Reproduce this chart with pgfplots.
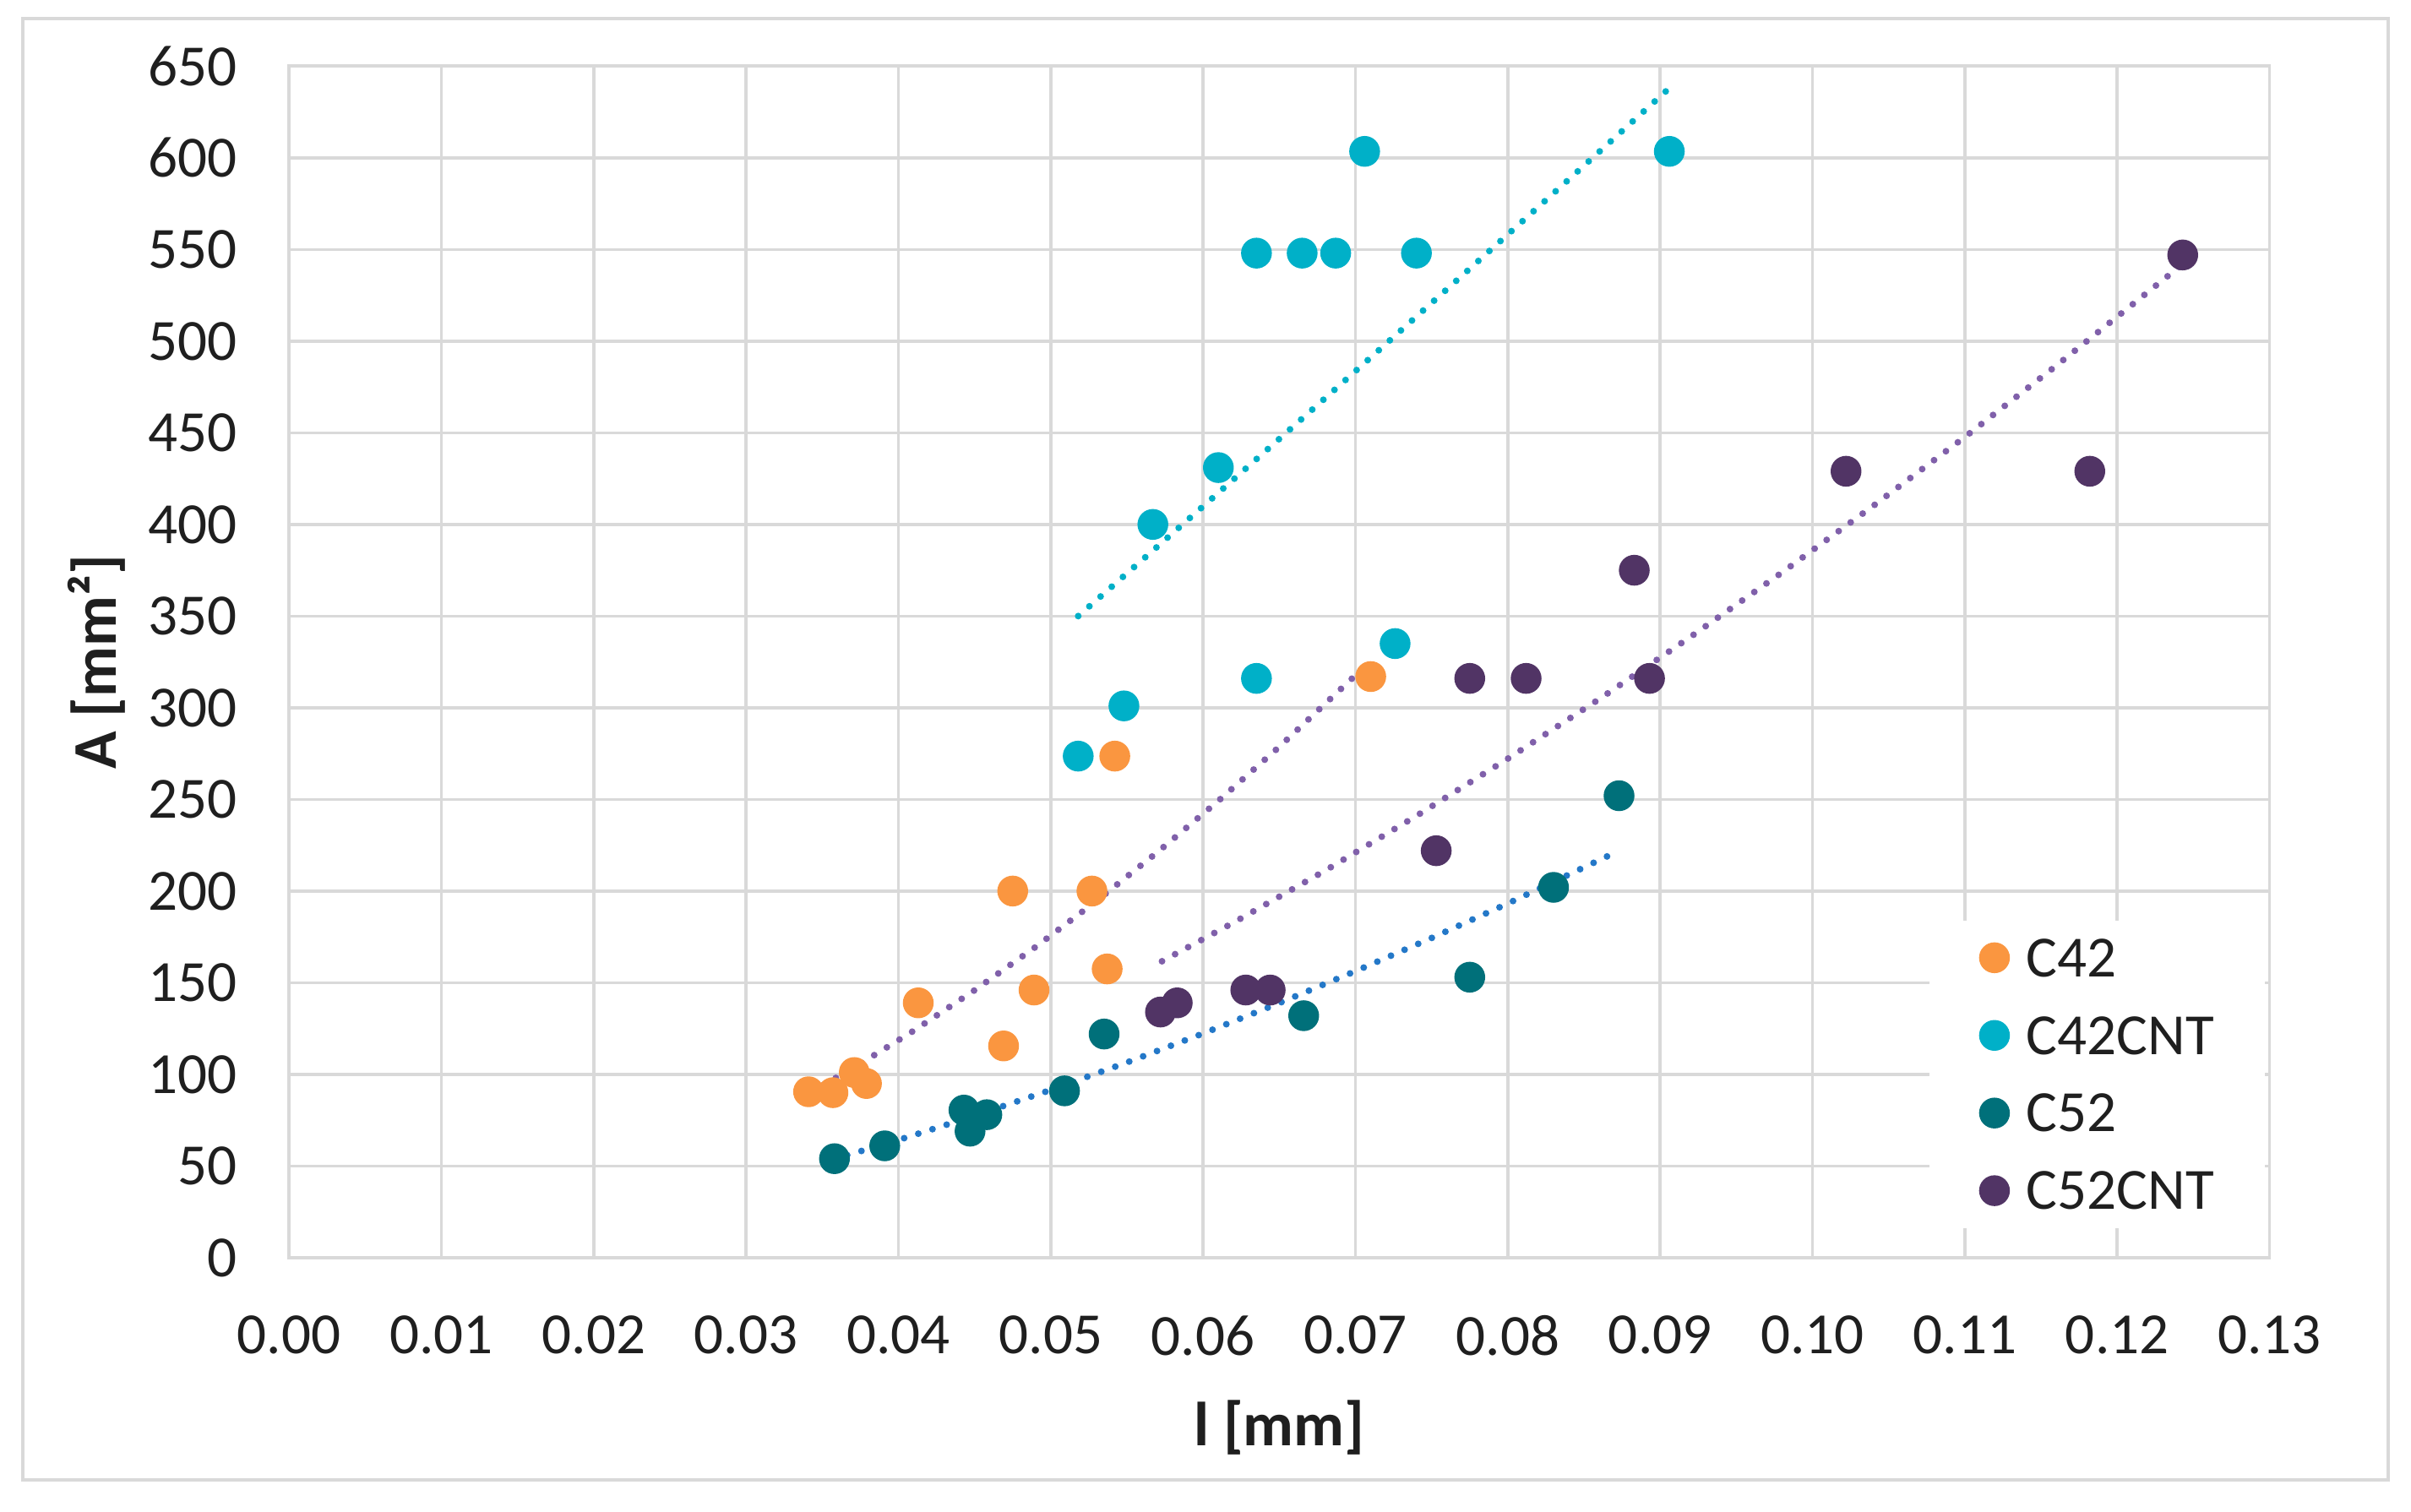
\documentclass[border=0pt]{standalone}
\usepackage{fontspec}
\setmainfont{Carlito}
\usepackage{pgfplots}
\pgfplotsset{compat=1.18}
\definecolor{gridgray}{RGB}{217,217,217}
\definecolor{cA}{RGB}{250,150,64}
\definecolor{cB}{RGB}{0,176,200}
\definecolor{cC}{RGB}{0,112,122}
\definecolor{cD}{RGB}{81,52,101}
\definecolor{tPurple}{RGB}{128,96,170}
\definecolor{tCyan}{RGB}{0,176,200}
\definecolor{tBlue}{RGB}{36,120,200}
\begin{document}
\begin{tikzpicture}
\path[use as bounding box] (-1.88,-1.654) rectangle (13.80,8.18);
\begin{axis}[
  scale only axis, width=12.88cm, height=7.75cm,
  at={(0,0)}, anchor=south west,
  xmin=0, xmax=0.13, ymin=0, ymax=650,
  xtick={0,0.01,0.02,0.03,0.04,0.05,0.06,0.07,0.08,0.09,0.10,0.11,0.12,0.13},
  ytick={0,50,100,150,200,250,300,350,400,450,500,550,600,650},
  scaled x ticks=false, scaled y ticks=false,
  /pgf/number format/assume math mode=true,
  xticklabel style={/pgf/number format/fixed, /pgf/number format/fixed zerofill, /pgf/number format/precision=2,
     anchor=north, inner sep=0pt, yshift=-0.37cm},
  yticklabel style={anchor=east, inner sep=0pt, xshift=-0.33cm},
  tick label style={font=\fontsize{10.8}{13}\selectfont, text=black!88},
  grid=major, major grid style={gridgray, line width=0.55pt},
  axis line style={gridgray, line width=0.6pt},
  tick style={draw=none},
  xlabel={l [mm]}, ylabel={A [mm²]},
  label style={font=\bfseries\fontsize{11.5}{13}\selectfont, text=black!88},
  xlabel style={at={(axis description cs:0.5,0)}, anchor=center, yshift=-1.105cm},
  ylabel style={at={(axis description cs:-0.097,0.5)}, anchor=center},
  legend image code/.code={\draw[mark repeat=2,mark phase=2,#1] plot coordinates {(0cm,0cm) (0.1cm,0cm) (0.2cm,0cm)};},
  legend cell align=left,
  legend style={at={(0.8277,0.2839)}, anchor=north west, draw=none, fill=white,
     inner xsep=0.33cm, inner ysep=0.02cm, row sep=0.06cm, column sep=0.115cm,
     font=\fontsize{10.8}{13}\selectfont, text=black!88,
     nodes={inner sep=0pt, text height=0.345cm, text depth=0.1cm},
     cells={anchor=west}},
]
% C42
\addplot[only marks, mark=*, mark size=2.65pt, color=cA] coordinates {
(0.0341,90.5) (0.0357,90) (0.0371,101) (0.0379,95) (0.0413,139) (0.0469,115.5)
(0.0475,200) (0.0489,146) (0.0527,200) (0.0537,157.5) (0.0542,273.6) (0.0710,317)};
% C42CNT
\addplot[only marks, mark=*, mark size=2.65pt, color=cB] coordinates {
(0.0518,273.6) (0.0548,301) (0.0567,400) (0.0610,431) (0.0635,316) (0.0635,548)
(0.0665,548) (0.0687,548) (0.0706,603.5) (0.0726,335) (0.0740,548) (0.0906,603.5)};
% C52
\addplot[only marks, mark=*, mark size=2.65pt, color=cC] coordinates {
(0.0358,54) (0.0391,61) (0.0443,80.5) (0.0447,69) (0.0458,78) (0.0509,91)
(0.0535,122) (0.0666,132) (0.0775,153) (0.0830,202) (0.0873,252)};
% C52CNT
\addplot[only marks, mark=*, mark size=2.65pt, color=cD] coordinates {
(0.0572,134) (0.0583,139) (0.0628,146) (0.0644,146) (0.0753,222) (0.0775,316)
(0.0812,316) (0.0883,375) (0.0893,316) (0.1022,429) (0.1182,429) (0.1243,547)};
\legend{C42,C42CNT,C52,C52CNT}
% trendlines
\addplot[forget plot, tPurple, line width=1.25pt, dash pattern=on 0pt off 2.75pt, line cap=round] coordinates {
(0.0342,90) (0.0375,105.8) (0.041,123.8) (0.045,145.9) (0.049,169.5) (0.053,194.6)
(0.057,221.2) (0.061,249.2) (0.065,278.7) (0.0711,326.3)};
\addplot[forget plot, tCyan, line width=1.25pt, dash pattern=on 0pt off 2.75pt, line cap=round] coordinates {
(0.0518,350) (0.056,380.6) (0.060,409.9) (0.064,439.3) (0.068,468.8) (0.072,498.5)
(0.076,528.3) (0.080,558.2) (0.084,588.2) (0.0906,638)};
\addplot[forget plot, tBlue, line width=1.25pt, dash pattern=on 0pt off 2.75pt, line cap=round] coordinates {
(0.0357,53.6) (0.040,64.2) (0.045,77.4) (0.050,91.5) (0.055,106.5) (0.060,122.3)
(0.065,138.9) (0.070,156.3) (0.075,174.4) (0.080,193.2) (0.0872,221.6)};
\addplot[forget plot, tPurple, line width=1.25pt, dash pattern=on 0pt off 2.75pt, line cap=round] coordinates {
(0.0573,161.7) (0.062,182.8) (0.068,211.1) (0.074,241.0) (0.080,272.2) (0.086,304.7)
(0.092,338.7) (0.098,373.8) (0.104,410.2) (0.110,447.7) (0.116,486.6) (0.1241,540.7)};
\end{axis}
\draw[gridgray, line width=0.6pt] (-1.732,-1.444) rectangle (13.65,8.06);
\end{tikzpicture}
\end{document}
